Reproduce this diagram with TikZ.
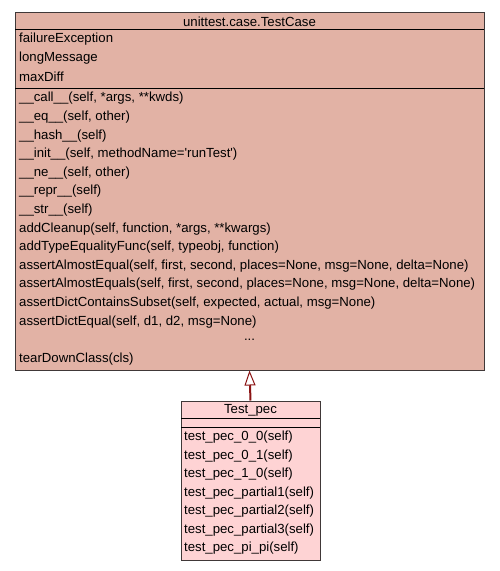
\documentclass[tikz,border=0pt]{standalone}
\usepackage{fontspec}
\setmainfont{Liberation Sans}
\usetikzlibrary{arrows.meta}
\definecolor{basefill}{RGB}{226,178,165}
\definecolor{subfill}{RGB}{254,211,212}
\definecolor{edgegray}{RGB}{64,56,56}
\definecolor{inhred}{RGB}{139,20,20}
\begin{document}
\begin{tikzpicture}[x=1pt,y=-1pt,
  classbox/.style={draw=edgegray, line width=1pt, rectangle, inner sep=0pt},
  txt/.style={anchor=west, inner sep=0pt, font=\fontsize{13.2}{15}\selectfont},
  ctxt/.style={anchor=center, inner sep=0pt, font=\fontsize{13.2}{15}\selectfont},
  sep/.style={draw=black, line width=1pt},
  inherit/.style={draw=inhred, line width=2pt, -{Triangle[open, length=15pt, width=11pt, line width=1pt, fill=white]}}]
\useasboundingbox (0,0) rectangle (499,571);
% base class
\node[classbox, fill=basefill, minimum width=469pt, minimum height=358pt] (base) at (249.5,191) {};
\node[ctxt] (basetitle) at (249.5,21.5) {unittest.case.TestCase};
\draw[sep] (15,29) -- (484,29);
\draw[sep] (15,88) -- (484,88);
\foreach \t [count=\i] in {failureException,longMessage,maxDiff}
  \node[txt] (attr\i) at (19,20.5+18.6*\i) {\t};
\foreach \t [count=\i] in {{\_\_call\_\_(self, *args, **kwds)},
  {\_\_eq\_\_(self, other)},
  {\_\_hash\_\_(self)},
  {\_\_init\_\_(self, methodName=\textquotesingle runTest\textquotesingle)},
  {\_\_ne\_\_(self, other)},
  {\_\_repr\_\_(self)},
  {\_\_str\_\_(self)},
  {addCleanup(self, function, *args, **kwargs)},
  {addTypeEqualityFunc(self, typeobj, function)},
  {assertAlmostEqual(self, first, second, places=None, msg=None, delta=None)},
  {assertAlmostEquals(self, first, second, places=None, msg=None, delta=None)},
  {assertDictContainsSubset(self, expected, actual, msg=None)},
  {assertDictEqual(self, d1, d2, msg=None)}}
  \node[txt] (meth\i) at (19,79.9+18.6*\i) {\t};
\node[ctxt] (dots) at (249.5,340) {...};
\node[txt] (lastmeth) at (19,359) {tearDownClass(cls)};
% derived class
\node[classbox, fill=subfill, minimum width=139pt, minimum height=159pt] (sub) at (250.5,480.5) {};
\node[ctxt] (subtitle) at (250.5,410.5) {Test\_pec};
\draw[sep] (181,418) -- (320,418);
\draw[sep] (181,427) -- (320,427);
\foreach \t [count=\i] in {test\_pec\_0\_0(self),test\_pec\_0\_1(self),test\_pec\_1\_0(self),
  test\_pec\_partial1(self),test\_pec\_partial2(self),test\_pec\_partial3(self),test\_pec\_pi\_pi(self)}
  \node[txt] (sm\i) at (184,419+18.5*\i) {\t};
% inheritance
\draw[inherit] (sub.north) -- (base.south);
\end{tikzpicture}
\end{document}
